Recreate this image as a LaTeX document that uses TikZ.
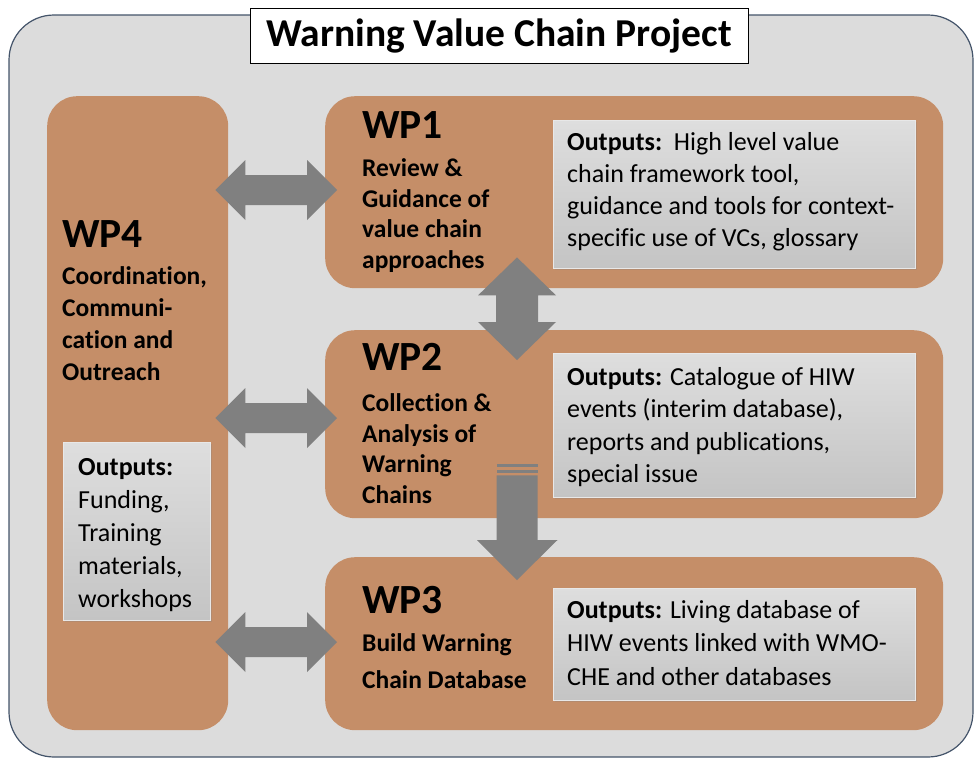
\documentclass[tikz,border=0pt]{standalone}
\usepackage{fontspec}
\setmainfont{Carlito}[Ligatures=NoCommon]
\usetikzlibrary{calc,shadows}

\definecolor{wpbrown}{RGB}{197,142,104}
\definecolor{panelgrey}{RGB}{220,220,220}
\definecolor{panelline}{RGB}{68,84,106}
\definecolor{arrowgrey}{RGB}{128,128,128}
\definecolor{outtop}{RGB}{222,222,222}
\definecolor{outbot}{RGB}{196,196,196}
\definecolor{outedge}{RGB}{232,232,232}

% horizontal double block arrow between two tip coordinates
\newcommand\hdarrow[2]{%
  \fill[bigarrow] (#1) -- ++(30,-30) -- ++(0,15) -- ($(#2)+(-30,-15)$)
    -- ++(0,-15) -- (#2) -- ++(-30,30) -- ++(0,-15) -- ($(#1)+(30,15)$)
    -- ++(0,15) -- cycle;}

\begin{document}
\begin{tikzpicture}[x=1pt, y=-1pt,
    wpbox/.style={fill=wpbrown, rounded corners=30pt, inner sep=0pt, anchor=north west},
    outbox/.style={top color=outtop, bottom color=outbot, draw=outedge, line width=0.6pt,
      inner sep=0pt, anchor=north west,
      drop shadow={shadow xshift=2pt, shadow yshift=-2pt, opacity=0.25}},
    wpid/.style={font=\bfseries\fontsize{41.5}{46}\selectfont, anchor=base west, inner sep=0pt},
    wpname/.style={font=\bfseries\fontsize{25.5}{30.5}\selectfont, align=left, anchor=base west, inner sep=0pt},
    outtext/.style={font=\fontsize{26}{32}\selectfont, align=left, anchor=base west, inner sep=0pt},
    bigarrow/.style={fill=arrowgrey}]

  \useasboundingbox (0,0) rectangle (975,763);

  % background panel and title
  \draw[panelline, line width=1.2pt, fill=panelgrey, rounded corners=45pt] (9,15) rectangle (973,757);
  \node[draw, fill=white, line width=0.7pt, minimum width=498pt, minimum height=55pt,
    font=\bfseries\fontsize{39.5}{44}\selectfont] (title) at (499,35.5) {Warning Value Chain Project};

  % work packages
  \node[wpbox, minimum width=181pt, minimum height=634pt] (wp4) at (47,96) {};
  \node[wpbox, minimum width=618pt, minimum height=192pt] (wp1) at (325,96) {};
  \node[wpbox, minimum width=618pt, minimum height=188pt] (wp2) at (325,330) {};
  \node[wpbox, minimum width=618pt, minimum height=173pt] (wp3) at (325,557) {};

  % output boxes
  \node[outbox, minimum width=362pt, minimum height=148pt] (out1) at (553,120) {};
  \node[outbox, minimum width=362pt, minimum height=144pt] (out2) at (553,353) {};
  \node[outbox, minimum width=362pt, minimum height=112pt] (out3) at (553,588) {};
  \node[outbox, minimum width=147pt, minimum height=178pt] (out4) at (63,442) {};

  % labels (multi-line nodes sit on their last baseline)
  \node[wpid] (wp1id) at ($(wp1.north west)+(37,42)$) {WP1};
  \node[wpname] (wp1name) at ($(wp1.north west)+(37,172)$) {Review \&\\Guidance of\\value chain\\approaches};
  \node[wpid] (wp2id) at ($(wp2.north west)+(37,40)$) {WP2};
  \node[wpname] (wp2name) at ($(wp2.north west)+(37,173)$) {Collection \&\\Analysis of\\Warning\\Chains};
  \node[wpid] (wp3id) at ($(wp3.north west)+(37,56)$) {WP3};
  \node[wpname, font=\bfseries\fontsize{25.5}{37}\selectfont] (wp3name) at ($(wp3.north west)+(37,131)$) {Build Warning\\Chain Database};
  \node[wpid] (wp4id) at ($(wp4.north west)+(15,151)$) {WP4};
  \node[wpname, font=\bfseries\fontsize{25.5}{32}\selectfont] (wp4name) at ($(wp4.north west)+(15,284)$) {Coordination,\\Communi-\\cation and\\Outreach};

  \node[outtext] (out1txt) at ($(out1.north west)+(14,126)$) {\textbf{Outputs:}\ \ High level value\\chain framework tool,\\guidance and tools for context-\\specific use of VCs, glossary};
  \node[outtext, font=\fontsize{26}{32.5}\selectfont] (out2txt) at ($(out2.north west)+(14,129.5)$) {\textbf{Outputs:} Catalogue of HIW\\events (interim database),\\reports and publications,\\special issue};
  \node[outtext, font=\fontsize{26}{33.5}\selectfont] (out3txt) at ($(out3.north west)+(14,97)$) {\textbf{Outputs:} Living database of\\HIW events linked with WMO-\\CHE and other databases};
  \node[outtext, font=\fontsize{26}{33}\selectfont] (out4txt) at ($(out4.north west)+(15,165)$) {\textbf{Outputs:}\\Funding,\\Training\\materials,\\workshops};

  % arrows between WP4 and the others
  \foreach \n/\y in {wp1/190,wp2/418,wp3/642}{
    \coordinate (l\n) at ($(wp4.east |- 0,\y)+(-13,0)$);
    \coordinate (r\n) at ($(\n.west |- 0,\y)+(12,0)$);
    \hdarrow{l\n}{r\n}
  }

  % WP1 <-> WP2
  \coordinate (t12) at ($(wp1.south west)+(192,-31)$);
  \coordinate (b12) at ($(wp2.north west)+(192,30)$);
  \fill[bigarrow] (t12) -- ++(39,38) -- ++(-18,0) -- ($(b12)+(21,-38)$) -- ++(18,0)
    -- (b12) -- ++(-39,-38) -- ++(18,0) -- ($(t12)+(-21,38)$) -- ++(-18,0) -- cycle;

  % WP2 -> WP3
  \coordinate (s23) at ($(wp2.south west)+(192,-43)$);
  \coordinate (e23) at ($(wp3.north west)+(192,23)$);
  \fill[bigarrow] ($(s23)+(-20.5,0)$) -- ($(s23)+(20.5,0)$) -- ($(e23)+(20.5,-40)$)
    -- ++(20,0) -- (e23) -- ++(-40,-40) -- ++(19.5,0) -- cycle;
  \foreach \d in {-11,-5}
    \fill[bigarrow] ($(s23)+(-20.5,\d)$) rectangle ++(41,3);
\end{tikzpicture}
\end{document}
